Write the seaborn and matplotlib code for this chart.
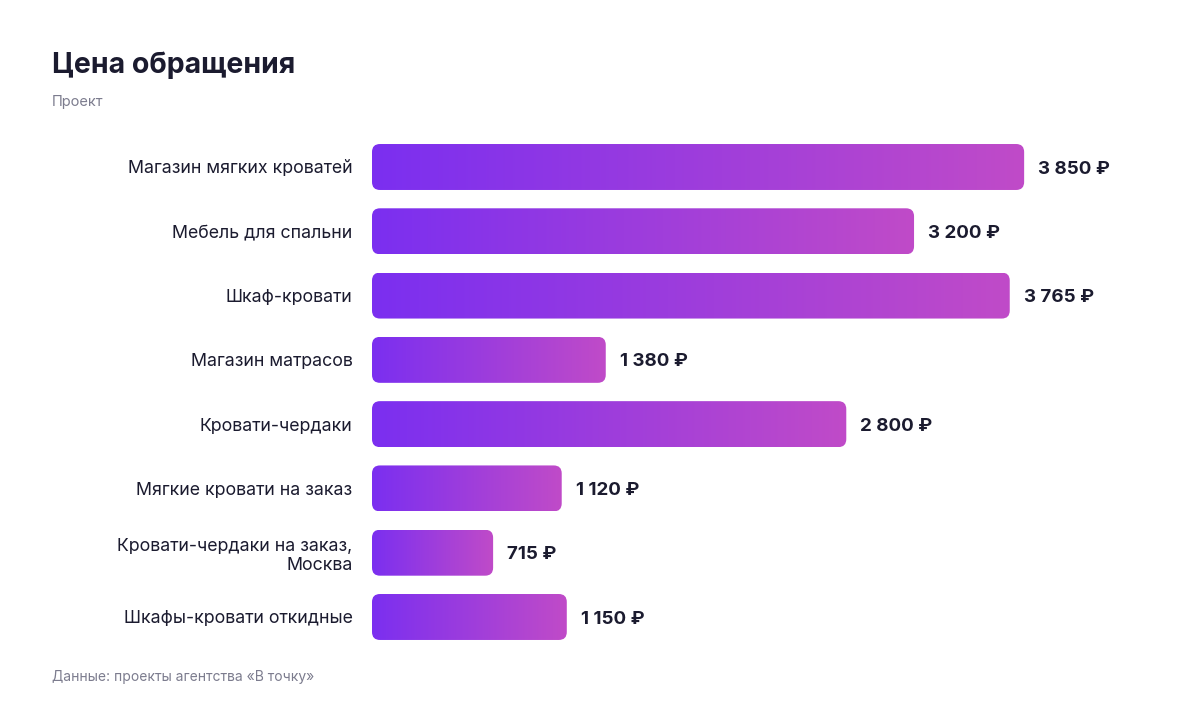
import numpy as np
import matplotlib
matplotlib.use("Agg")
import matplotlib.pyplot as plt
import seaborn as sns
from matplotlib.patches import FancyBboxPatch
from matplotlib.colors import LinearSegmentedColormap

# data
categories = [
    "Магазин мягких кроватей",
    "Мебель для спальни",
    "Шкаф-кровати",
    "Магазин матрасов",
    "Кровати-чердаки",
    "Мягкие кровати на заказ",
    "Кровати-чердаки на заказ,\nМосква",
    "Шкафы-кровати откидные",
]
values = [3850, 3200, 3765, 1380, 2800, 1120, 715, 1150]
value_labels = ["3 850 ₽", "3 200 ₽", "3 765 ₽", "1 380 ₽", "2 800 ₽", "1 120 ₽", "715 ₽", "1 150 ₽"]

sns.set_style("white")
plt.rcParams['font.family'] = ['Inter', 'DejaVu Sans']

dark = "#1b1b2f"
grey = "#7c7c8e"
grad = LinearSegmentedColormap.from_list("g", ["#7b2ff0", "#c04bc8"])

fig = plt.figure(figsize=(12, 7.12), dpi=100)
ax = fig.add_axes([0.31, 0.0883, 0.64, 0.7223])

sns.barplot(x=values, y=categories, orient="h", ax=ax, width=0.715, color="#7b2ff0")

# swap plain bars for rounded gradient ones
r = 47
asp = 0.124 / 47
gimg = np.linspace(0, 1, 256).reshape(1, -1)
for p in list(ax.patches):
    x0, y0, w, h = p.get_x(), p.get_y(), p.get_width(), p.get_height()
    p.set_visible(False)
    box = FancyBboxPatch((x0, y0), w, h, boxstyle=f"round,pad=0,rounding_size={r}",
                         mutation_aspect=asp, facecolor="none", edgecolor="none")
    ax.add_patch(box)
    im = ax.imshow(gimg, cmap=grad, aspect="auto", extent=(x0, x0 + w, y0 + h, y0),
                   interpolation="bicubic", zorder=2)
    im.set_clip_path(box)

ax.set_xlim(0, 4534)
ax.set_ylim(7.5, -0.5)

for i, (v, lab) in enumerate(zip(values, value_labels)):
    ax.annotate(lab, (v, i), xytext=(10, -1.5), textcoords="offset points",
                ha="left", va="center", fontsize=13.5, fontweight="bold", color=dark)

ax.tick_params(axis="y", length=0, pad=14, labelsize=12.8, labelcolor=dark)
ax.set_xticks([])
ax.set_xlabel("")
ax.set_ylabel("")
sns.despine(ax=ax, left=True, bottom=True)

fig.text(52 / 1200, 1 - 65 / 712, "Цена обращения", fontsize=20.5, fontweight="bold",
         color=dark, ha="left", va="center")
fig.text(52 / 1200, 1 - 102 / 712, "Проект", fontsize=10.5, color=grey, ha="left", va="center")
fig.text(52 / 1200, 1 - 677 / 712, "Данные: проекты агентства «В точку»", fontsize=10,
         color=grey, ha="left", va="center")

fig.savefig("out.png", dpi=100, facecolor="white")
